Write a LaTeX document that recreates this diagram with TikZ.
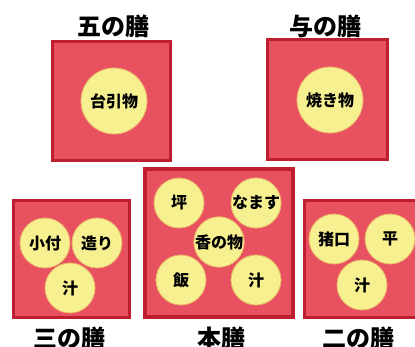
\documentclass[tikz,border=0pt]{standalone}
\usepackage{fontspec}
\newfontfamily\jpfont{Noto Sans CJK JP}
\definecolor{zenred}{HTML}{E8515F}
\definecolor{zenedge}{HTML}{BE1E2E}
\definecolor{dishyel}{HTML}{F7F091}
\definecolor{dishedge}{HTML}{EDB56A}
\tikzset{
  zen/.style={draw=zenedge, fill=zenred, line width=3pt},
  dish/.style={circle, draw=dishedge, fill=dishyel, line width=0.8pt, minimum size=50pt, inner sep=0pt,
    font=\jpfont\bfseries\fontsize{16}{16}\selectfont},
  bigdish/.style={dish, minimum size=66pt},
  zentitle/.style={font=\jpfont\bfseries\fontsize{24}{24}\selectfont, inner sep=0pt}
}

\begin{document}
\begin{tikzpicture}[x=1pt,y=-1pt]
\useasboundingbox (0,0) rectangle (415,347);

%go no zen (top left)
\draw[zen] (52,42) rectangle (170,161);
\node[bigdish] (daibiki) at (114,101) {台引物};
\node[zentitle] (gozen) at (113,26) {五の膳};

%yo no zen (top right)
\draw[zen] (267,40) rectangle (387,160);
\node[bigdish] (yakimono) at (330,100) {焼き物};
\node[zentitle] (yozen) at (325,26) {与の膳};

%san no zen (bottom left)
\draw[zen] (13,201) rectangle (129,318);
\node[dish] (kotsuke) at (45,243) {小付};
\node[dish] (tsukuri) at (97,243) {造り};
\node[dish] (shiru3) at (70,288) {汁};
\node[zentitle] (sanzen) at (69,338) {三の膳};

%hon zen (bottom middle)
\draw[zen, line width=4pt] (145,169) rectangle (293,317);
\node[dish] (tsubo) at (179,203) {坪};
\node[dish] (namasu) at (256,203) {なます};
\node[dish] (kounomono) at (219,242) {香の物};
\node[dish] (meshi) at (181,280) {飯};
\node[dish] (shiru1) at (256,280) {汁};
\node[zentitle] (honzen) at (221,338) {本膳};

%ni no zen (bottom right)
\draw[zen] (304,201) rectangle (420,318);
\node[dish] (choku) at (334,239) {猪口};
\node[dish] (hira) at (390,239) {平};
\node[dish] (shiru2) at (362,285) {汁};
\node[zentitle] (nizen) at (358,338) {二の膳};
\end{tikzpicture}
\end{document}
